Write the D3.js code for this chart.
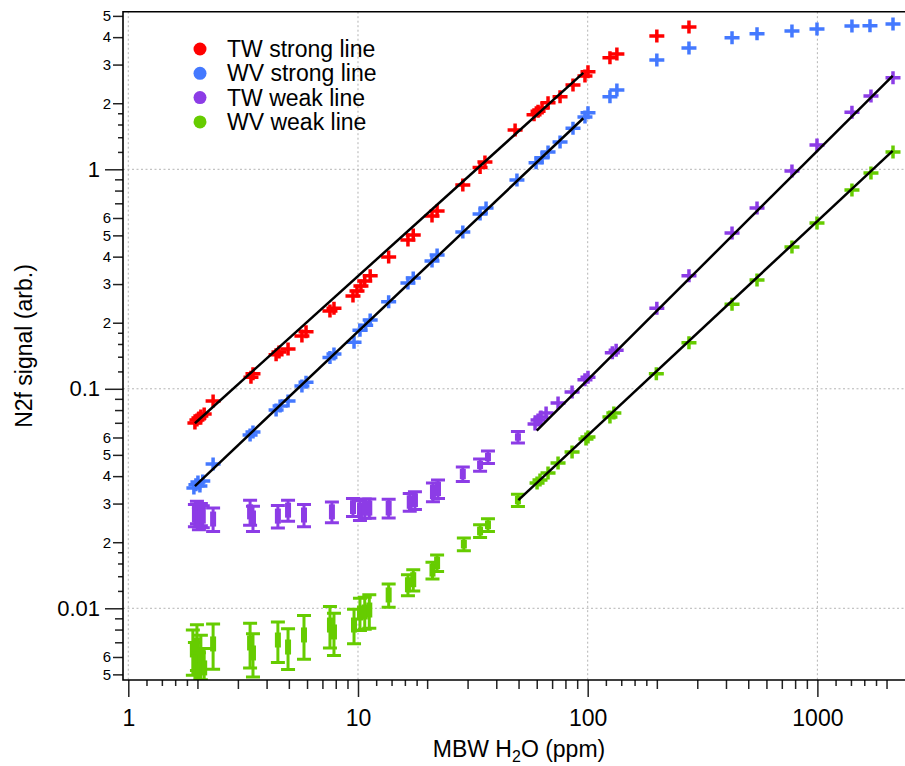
<!DOCTYPE html>
<html>
<head>
<meta charset="utf-8">
<script src="https://cdn.jsdelivr.net/npm/d3@7"></script>
<style>
body { margin: 0; background: #fff; }
text { font-family: "Liberation Sans", Arial, Helvetica, sans-serif; fill: #000; }
</style>
</head>
<body>
<svg id="chart" width="905" height="766"></svg>
<script>
// TW strong line
var twStrongX = [1.95, 1.99, 2.03, 2.07, 2.14, 2.34, 3.42, 3.49, 4.40, 4.53, 4.96, 5.70, 5.94, 7.55, 7.86,
    9.51, 9.90, 10.3, 10.7, 11.3, 13.6, 16.5, 17.4, 21.0, 22.1, 28.6, 34.0, 35.7, 48.3, 58.4, 60.8, 63.3,
    67.2, 75.8, 86.3, 97.3, 100.3, 125, 134, 200, 276];
var twStrongY = [0.0699, 0.0721, 0.0736, 0.0752, 0.0768, 0.0880, 0.113, 0.117, 0.143, 0.147, 0.152, 0.174,
    0.182, 0.226, 0.233, 0.265, 0.279, 0.294, 0.310, 0.327, 0.398, 0.476, 0.502, 0.613, 0.646, 0.848, 1.02,
    1.08, 1.51, 1.77, 1.84, 1.90, 2.01, 2.14, 2.42, 2.66, 2.78, 3.22, 3.35, 4.05, 4.45];

// WV strong line
var wvStrongX = [1.93, 1.97, 2.01, 2.05, 2.11, 2.34, 3.39, 3.49, 4.40, 4.58, 4.96, 5.70, 5.94, 7.55, 7.86,
    9.61, 10.2, 10.8, 11.3, 13.6, 16.5, 17.4, 21.0, 22.1, 28.6, 34.0, 36.1, 49.2, 59.6, 63.3, 67.2, 75.8,
    86.3, 97.3, 100.3, 125, 134, 200, 276, 425, 546, 775, 996, 1414, 1694, 2134];
var wvStrongY = [0.0353, 0.0365, 0.0376, 0.0361, 0.0380, 0.0454, 0.0616, 0.0636, 0.0800, 0.0835, 0.0880,
    0.103, 0.107, 0.139, 0.144, 0.163, 0.185, 0.195, 0.206, 0.249, 0.303, 0.320, 0.382, 0.407, 0.518, 0.626,
    0.666, 0.894, 1.07, 1.13, 1.20, 1.33, 1.54, 1.73, 1.81, 2.14, 2.30, 3.15, 3.57, 3.97, 4.14, 4.27, 4.36,
    4.50, 4.51, 4.59];

// TW weak line (with y error)
var twWeakX = [1.95, 1.99, 2.03, 2.07, 2.11, 2.34, 3.39, 3.49, 4.48, 4.96, 5.82, 7.70, 9.51, 10.2, 10.7,
    11.2, 13.6, 16.8, 17.7, 21.2, 22.3, 28.6, 34.0, 36.8, 49.7, 59.0, 60.8, 62.6, 65.9, 74.3, 85.5, 97.3,
    100.3, 128, 133, 200, 276, 425, 546, 775, 996, 1414, 1711, 2134];
var twWeakY = [0.0266, 0.0275, 0.0258, 0.0269, 0.0263, 0.0255, 0.0275, 0.0258, 0.0263, 0.0280, 0.0266,
    0.0275, 0.0289, 0.0280, 0.0286, 0.0286, 0.0286, 0.0305, 0.0311, 0.0339, 0.0350, 0.0409, 0.0450, 0.0489,
    0.0603, 0.0691, 0.0721, 0.0744, 0.0776, 0.0862, 0.0967, 0.110, 0.113, 0.146, 0.150, 0.233, 0.327, 0.513,
    0.666, 0.982, 1.29, 1.82, 2.16, 2.61];
var twWeakErr = [0.0031, 0.0032, 0.0030, 0.0031, 0.0030, 0.0031, 0.0036, 0.0034, 0.0031, 0.0031, 0.0031,
    0.0030, 0.0027, 0.0029, 0.0029, 0.0029, 0.0028, 0.0028, 0.0029, 0.0033, 0.0034, 0.0031, 0.0029, 0.0032,
    0.0036, 0.0030, 0.0030, 0.0031, 0.0030, 0.0031, 0.0030, 0.0032, 0.0031, 0.0030, 0.0031, 0.0030, 0.0031,
    0.0030, 0.0032, 0.0031, 0.0030, 0.0031, 0.0032, 0.0030];

// WV weak line (with y error)
var wvWeakX = [1.91, 1.95, 1.99, 2.03, 2.07, 2.14, 2.34, 3.39, 3.49, 4.48, 4.96, 5.82, 7.55, 7.86, 9.61,
    10.2, 10.7, 11.2, 13.6, 16.5, 17.4, 21.1, 22.1, 28.9, 34.0, 36.8, 49.7, 60.2, 62.0, 67.2, 74.3, 85.5,
    98.3, 100.3, 125, 130, 199, 276, 425, 546, 775, 996, 1414, 1711, 2134];
var wvWeakY = [0.00646, 0.00569, 0.00681, 0.00507, 0.00613, 0.00535, 0.00688, 0.00695, 0.00626, 0.00717,
    0.00666, 0.00756, 0.00839, 0.00780, 0.00839, 0.00952, 0.00962, 0.00982, 0.0115, 0.0128, 0.0135, 0.0149,
    0.0161, 0.0196, 0.0225, 0.0240, 0.0311, 0.0372, 0.0384, 0.0413, 0.0459, 0.0515, 0.0591, 0.0603, 0.0744,
    0.0776, 0.117, 0.162, 0.243, 0.313, 0.443, 0.569, 0.805, 0.962, 1.20];
var wvWeakErr = [0.0015, 0.0013, 0.0016, 0.0012, 0.0014, 0.0012, 0.0016, 0.0016, 0.0014, 0.0015, 0.0014,
    0.0017, 0.0018, 0.0017, 0.0015, 0.0016, 0.0016, 0.0017, 0.0014, 0.0014, 0.0015, 0.0013, 0.0014, 0.0013,
    0.0015, 0.0016, 0.0020, 0.0015, 0.0014, 0.0015, 0.0016, 0.0015, 0.0014, 0.0015, 0.0016, 0.0015, 0.0014,
    0.0015, 0.0016, 0.0015, 0.0014, 0.0015, 0.0016, 0.0015, 0.0014];

// power-law fits y = a * x^b, one per series
var fitCoef = [0.0371, 0.0186, 0.000902, 0.000685];
var fitSlope = [0.944, 0.991, 1.043, 0.976];
var fitStart = [1.95, 1.95, 60.0, 49.9];
var fitEnd = [95.7, 95.7, 2127, 2127];

var seriesNames = ['TW strong line', 'WV strong line', 'TW weak line', 'WV weak line'];
var seriesColors = ['#ff0000', '#4479ff', '#8c3ce6', '#66cc00'];

var xMajorTicks = [1, 10, 100, 1000];
var yMajorTicks = [0.01, 0.1, 1];
var midMant = [2, 3, 4, 5, 6, 7, 8, 9];
var yLabelMant = [2, 3, 4, 5, 6];
var yPlainMant = [7, 8, 9];
var fineMant = [1.2, 1.4, 1.6, 1.8];

function decadeTicks(domain, mants) {
    var out = [];
    for (var e = -3; e <= 4; e++) {
        mants.forEach(function (m) {
            var v = +(m * Math.pow(10, e)).toPrecision(6);
            if (v >= domain[0] && v <= domain[1]) out.push(v);
        });
    }
    return out;
}

function LogChart(svg) {
    this.svg = svg;
    this.opts = {
        left: 123, right: 906, top: 11.7, bottom: 680,
        xDomain: [0.9483, 2431],
        yDomain: [0.004713, 5.224]
    };
}

LogChart.prototype = {
    init: function (series) {
        var o = this.opts;
        this.x = d3.scaleLog().domain(o.xDomain).range([o.left, o.right]);
        this.y = d3.scaleLog().domain(o.yDomain).range([o.bottom, o.top]);
        this.series = series;

        this.svg.append('defs').append('clipPath').attr('id', 'plot-clip')
            .append('rect')
            .attr('x', o.left).attr('y', o.top)
            .attr('width', o.right - o.left).attr('height', o.bottom - o.top);

        this.renderGrid();
        this.renderSeries();
        this.renderFits();
        this.renderAxes();
        this.renderLegend();
        this.renderTitles();
    },

    // dotted grid at the decades
    renderGrid: function () {
        var o = this.opts, x = this.x, y = this.y;
        var g = this.svg.append('g')
            .attr('stroke', '#b4b4b4')
            .attr('stroke-width', 1)
            .attr('stroke-dasharray', '2,2.5');
        g.selectAll('line.gx').data(xMajorTicks).enter().append('line')
            .attr('x1', function (d) { return x(d); })
            .attr('x2', function (d) { return x(d); })
            .attr('y1', o.top).attr('y2', o.bottom);
        g.selectAll('line.gy').data(yMajorTicks).enter().append('line')
            .attr('y1', function (d) { return y(d); })
            .attr('y2', function (d) { return y(d); })
            .attr('x1', o.left).attr('x2', o.right);
    },

    renderSeries: function () {
        var x = this.x, y = this.y;
        var wrap = this.svg.append('g').attr('clip-path', 'url(#plot-clip)');

        this.series.forEach(function (s, i) {
            var color = seriesColors[i];
            var pts = s.x.map(function (v, k) {
                return {x: v, y: s.y[k], e: s.err ? s.err[k] : 0};
            });
            var g = wrap.append('g').attr('fill', 'none').attr('stroke', color);

            pts.forEach(function (d) {
                var px = x(d.x), py = y(d.y);
                var top = y(d.y + d.e);
                var bot = d.y - d.e > 0 ? y(d.y - d.e) : 2000;
                var half = (bot - top) / 2;
                if (half < 5) {
                    // plain cross marker
                    g.append('path')
                        .attr('d', 'M' + (px - 7.5) + ',' + py + 'H' + (px + 7.5) +
                            'M' + px + ',' + (py - 6.5) + 'V' + (py + 6.5))
                        .attr('stroke-width', 3.5);
                } else {
                    // capped error bar with a thick centre
                    g.append('path')
                        .attr('d', 'M' + px + ',' + top + 'V' + bot +
                            'M' + (px - 7) + ',' + top + 'H' + (px + 7) +
                            'M' + (px - 7) + ',' + bot + 'H' + (px + 7))
                        .attr('stroke-width', 3);
                    var h = Math.min(2 * half - 4, 15);
                    g.append('path')
                        .attr('d', 'M' + px + ',' + (py - h / 2) + 'V' + (py + h / 2))
                        .attr('stroke-width', 6);
                }
            });
        });
    },

    renderFits: function () {
        var x = this.x, y = this.y;
        var line = d3.line()
            .x(function (d) { return x(d[0]); })
            .y(function (d) { return y(d[1]); });
        for (var i = 0; i < fitCoef.length; i++) {
            var ends = [fitStart[i], fitEnd[i]].map(function (v) {
                return [v, fitCoef[i] * Math.pow(v, fitSlope[i])];
            });
            this.svg.append('path')
                .attr('d', line(ends))
                .attr('stroke', '#000')
                .attr('stroke-width', 2.5)
                .attr('fill', 'none');
        }
    },

    renderAxes: function () {
        var o = this.opts, x = this.x, y = this.y;
        var fmt = d3.format('~g');
        var mant = function (d) {
            return Math.round(d / Math.pow(10, Math.floor(Math.log10(d) + 1e-9)));
        };

        // x axis
        var xg = this.svg.append('g').attr('transform', 'translate(0,' + o.bottom + ')');
        xg.append('g').call(d3.axisBottom(x).tickValues(decadeTicks(o.xDomain, fineMant))
            .tickSize(6).tickSizeOuter(0).tickFormat(''));
        xg.append('g').call(d3.axisBottom(x).tickValues(decadeTicks(o.xDomain, midMant))
            .tickSize(9).tickSizeOuter(0).tickFormat(''));
        xg.append('g').attr('class', 'major').call(d3.axisBottom(x).tickValues(xMajorTicks)
            .tickSize(17).tickSizeOuter(0).tickPadding(13).tickFormat(fmt));

        // y axis
        var yg = this.svg.append('g').attr('transform', 'translate(' + o.left + ',0)');
        yg.append('g').call(d3.axisLeft(y).tickValues(decadeTicks(o.yDomain, fineMant))
            .tickSize(5).tickSizeOuter(0).tickFormat(''));
        yg.append('g').call(d3.axisLeft(y).tickValues(decadeTicks(o.yDomain, yPlainMant))
            .tickSize(8).tickSizeOuter(0).tickFormat(''));
        yg.append('g').attr('class', 'minor-label').call(d3.axisLeft(y)
            .tickValues(decadeTicks(o.yDomain, yLabelMant))
            .tickSize(10).tickSizeOuter(0).tickPadding(2).tickFormat(mant));
        yg.append('g').attr('class', 'major').call(d3.axisLeft(y).tickValues(yMajorTicks)
            .tickSize(18).tickSizeOuter(0).tickPadding(5).tickFormat(fmt));

        this.svg.selectAll('.tick line').attr('stroke', '#222').attr('stroke-width', 1.5);
        this.svg.selectAll('.domain').attr('stroke', 'none');
        this.svg.selectAll('.tick text').attr('font-family', null).attr('fill', '#000');
        xg.selectAll('.major text').attr('font-size', 23);
        yg.selectAll('.major text').attr('font-size', 22);
        yg.selectAll('.minor-label text').attr('font-size', 15);

        // frame: left, bottom, top
        this.svg.append('path')
            .attr('d', 'M' + o.right + ',' + o.top + 'H' + o.left + 'V' + o.bottom + 'H' + o.right)
            .attr('stroke', '#000')
            .attr('stroke-width', 1.6)
            .attr('fill', 'none');
    },

    renderLegend: function () {
        var g = this.svg.append('g');
        var rows = g.selectAll('g').data(seriesNames).enter().append('g')
            .attr('transform', function (d, i) { return 'translate(200,' + (49 + i * 24.3) + ')'; });
        rows.append('circle')
            .attr('r', 6.5)
            .attr('fill', function (d, i) { return seriesColors[i]; });
        rows.append('text')
            .attr('x', 27)
            .attr('dy', '0.35em')
            .attr('font-size', 23)
            .text(function (d) { return d; });
    },

    renderTitles: function () {
        var t = this.svg.append('text')
            .attr('x', 519)
            .attr('y', 757)
            .attr('text-anchor', 'middle')
            .attr('font-size', 23);
        t.append('tspan').text('MBW H');
        t.append('tspan').attr('font-size', 16).attr('dy', 5).text('2');
        t.append('tspan').attr('dy', -5).text('O (ppm)');

        this.svg.append('text')
            .attr('transform', 'translate(32,346) rotate(-90)')
            .attr('text-anchor', 'middle')
            .attr('font-size', 23)
            .text('N2f signal (arb.)');
    }
};

var chart = new LogChart(d3.select('#chart'));
chart.init([
    {x: twStrongX, y: twStrongY},
    {x: wvStrongX, y: wvStrongY},
    {x: twWeakX, y: twWeakY, err: twWeakErr},
    {x: wvWeakX, y: wvWeakY, err: wvWeakErr}
]);
</script>
</body>
</html>
